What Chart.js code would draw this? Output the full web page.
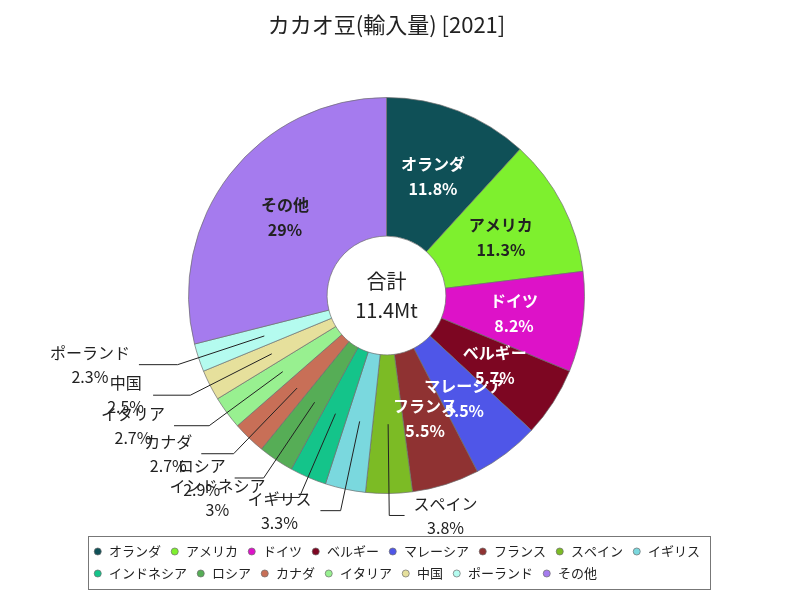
<!DOCTYPE html>
<html lang="ja">
<head>
<meta charset="utf-8">
<title>カカオ豆(輸入量) [2021]</title>
<script src="https://cdn.jsdelivr.net/npm/chart.js@4"></script>
<style>
  html, body { margin: 0; padding: 0; background: #fff; }
  canvas { display: block; }
</style>
</head>
<body>
<canvas id="cocoa-chart" width="800" height="600"></canvas>
<script>
const titleText = "カカオ豆(輸入量) [2021]";
const totalLabel = "合計";
const totalValue = "11.4Mt";

const countries = [
  "オランダ", "アメリカ", "ドイツ", "ベルギー", "マレーシア", "フランス", "スペイン", "イギリス",
  "インドネシア", "ロシア", "カナダ", "イタリア", "中国", "ポーランド", "その他",
];
// share of total imports, %
const shares = [11.8, 11.3, 8.2, 5.7, 5.5, 5.5, 3.8, 3.3, 3, 2.9, 2.7, 2.7, 2.5, 2.3, 29];
const colors = [
  "#0f5057", "#7ef02e", "#dd12c8", "#7d0622", "#4f56e8", "#8f3232", "#7cbb25", "#7ad8de",
  "#14c48a", "#56ad56", "#c86f57", "#98f090", "#e6e09c", "#b4fbef", "#a57bee",
];

const FONT = '"Noto Sans CJK JP", "Noto Sans", sans-serif';
const CENTER_X = 386.5;
const CENTER_Y = 295.5;
const SIZE = 397;

function isLight(hex) {
  const r = parseInt(hex.slice(1, 3), 16);
  const g = parseInt(hex.slice(3, 5), 16);
  const b = parseInt(hex.slice(5, 7), 16);
  return 0.299 * r + 0.587 * g + 0.114 * b > 130;
}

// put the pie where the reference has it (it is not centred on the legend)
const placePie = {
  id: "placePie",
  afterLayout(chart) {
    const a = chart.chartArea;
    a.left = CENTER_X - SIZE / 2;
    a.right = CENTER_X + SIZE / 2;
    a.top = CENTER_Y - SIZE / 2;
    a.bottom = CENTER_Y + SIZE / 2;
    a.width = SIZE;
    a.height = SIZE;
  },
};

const sliceLabels = {
  id: "sliceLabels",
  afterDatasetsDraw(chart) {
    const ctx = chart.ctx;
    const meta = chart.getDatasetMeta(0);
    ctx.save();
    ctx.textAlign = "center";
    ctx.textBaseline = "middle";
    meta.data.forEach((arc, i) => {
      const { x, y, startAngle, endAngle, innerRadius, outerRadius } = arc.getProps(
        ["x", "y", "startAngle", "endAngle", "innerRadius", "outerRadius"],
        true
      );
      const mid = (startAngle + endAngle) / 2;
      const midR = (innerRadius + outerRadius) / 2;
      const px = x + Math.cos(mid) * midR;
      const py = y + Math.sin(mid) * midR;
      const name = countries[i];
      const value = shares[i] + "%";

      if (shares[i] >= 5) {
        ctx.font = "bold 16px " + FONT;
        ctx.fillStyle = isLight(colors[i]) ? "#222" : "#fff";
        ctx.fillText(name, px, py - 12);
        ctx.fillText(value, px, py + 13);
        return;
      }

      const ex = x + Math.cos(mid) * (outerRadius + 22);
      const ey = y + Math.sin(mid) * (outerRadius + 22);
      const side = Math.cos(mid) >= 0 ? 1 : -1;
      const hx = ex + side * (15 + 25 * Math.abs(Math.cos(mid)));

      ctx.strokeStyle = "#222";
      ctx.lineWidth = 1;
      ctx.beginPath();
      ctx.moveTo(px, py);
      ctx.lineTo(ex, ey);
      ctx.lineTo(hx, ey);
      ctx.stroke();

      ctx.font = "16px " + FONT;
      ctx.fillStyle = "#222";
      const w = Math.max(ctx.measureText(name).width, ctx.measureText(value).width);
      const tx = hx + side * (w / 2 + 9);
      ctx.fillText(name, tx, ey - 12);
      ctx.fillText(value, tx, ey + 12);
    });
    ctx.restore();
  },
};

const extras = {
  id: "extras",
  afterDraw(chart) {
    const ctx = chart.ctx;
    const a = chart.chartArea;
    const cx = (a.left + a.right) / 2;
    const cy = (a.top + a.bottom) / 2;
    ctx.save();
    ctx.textAlign = "center";
    ctx.textBaseline = "middle";
    ctx.fillStyle = "#222";

    ctx.font = "22px " + FONT;
    ctx.fillText(titleText, cx, 25);

    ctx.font = "20px " + FONT;
    ctx.fillText(totalLabel, cx, cy - 14);
    ctx.fillText(totalValue, cx, cy + 15);

    const lg = chart.legend;
    ctx.strokeStyle = "#777";
    ctx.lineWidth = 1;
    ctx.strokeRect(lg.left + 4.5, lg.top + 0.5, lg.width - 10, lg.height - 1);
    ctx.restore();
  },
};

new Chart(document.getElementById("cocoa-chart"), {
  type: "doughnut",
  data: {
    labels: countries,
    datasets: [
      {
        data: shares,
        backgroundColor: colors,
        borderColor: "rgba(110, 110, 110, 0.7)",
        borderWidth: 1,
      },
    ],
  },
  options: {
    responsive: false,
    animation: false,
    devicePixelRatio: 1,
    cutout: "30%",
    layout: {
      padding: { left: 84, right: 84, top: 60, bottom: 10 },
    },
    plugins: {
      title: { display: false },
      tooltip: { enabled: false },
      legend: {
        position: "bottom",
        align: "start",
        labels: {
          usePointStyle: true,
          pointStyle: "circle",
          boxWidth: 9.5,
          boxHeight: 5,
          padding: 9,
          color: "#222",
          font: { family: FONT, size: 13 },
        },
      },
    },
  },
  plugins: [placePie, sliceLabels, extras],
});
</script>
</body>
</html>
